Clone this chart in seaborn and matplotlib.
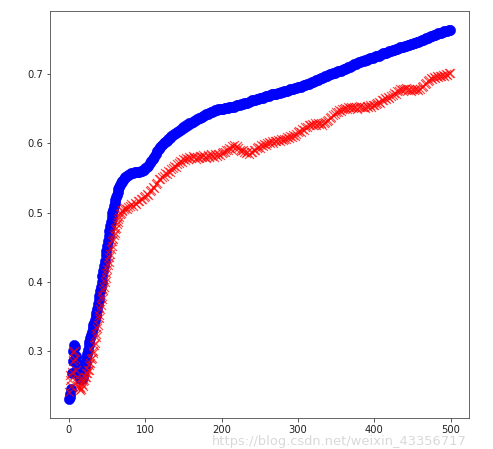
import numpy as np
import pandas as pd
import seaborn as sns
from matplotlib import pyplot as plt

# sampling grid: every step up to 69 (steep climb), then every other step
x_steps = np.concatenate([np.arange(0, 70, 1), np.arange(70, 500, 2), [499]])

blue_vals = [
    # 0..69
    0.230, 0.233, 0.238, 0.245, 0.268, 0.285, 0.300, 0.309, 0.305, 0.293,
    0.283, 0.276, 0.270, 0.265, 0.262, 0.260, 0.259, 0.260, 0.262, 0.266,
    0.272, 0.277, 0.283, 0.290, 0.296, 0.302, 0.308, 0.313, 0.318, 0.323,
    0.328, 0.333, 0.337, 0.341, 0.345, 0.350, 0.355, 0.361, 0.368, 0.374,
    0.380, 0.386, 0.393, 0.400, 0.408, 0.415, 0.423, 0.430, 0.438, 0.445,
    0.452, 0.459, 0.466, 0.473, 0.480, 0.487, 0.493, 0.499, 0.504, 0.509,
    0.514, 0.518, 0.522, 0.526, 0.530, 0.534, 0.537, 0.540, 0.542, 0.544,
    # 70..498 step 2
    0.546, 0.549, 0.551, 0.553, 0.554,
    0.556, 0.557, 0.557, 0.558, 0.558, 0.559, 0.559, 0.560, 0.560, 0.561,
    0.564, 0.566, 0.568, 0.571, 0.574, 0.578, 0.581, 0.585, 0.589, 0.592,
    0.595, 0.598, 0.600, 0.602, 0.604, 0.606, 0.608, 0.610, 0.612, 0.613,
    0.615, 0.617, 0.618, 0.620, 0.621, 0.623, 0.624, 0.626, 0.627, 0.629,
    0.630, 0.631, 0.632, 0.634, 0.635, 0.636, 0.637, 0.638, 0.640, 0.641,
    0.642, 0.643, 0.644, 0.645, 0.646, 0.647, 0.648, 0.648, 0.649, 0.649,
    0.650, 0.650, 0.651, 0.651, 0.651, 0.652, 0.652, 0.653, 0.653, 0.654,
    0.655, 0.655, 0.656, 0.657, 0.657, 0.658, 0.659, 0.659, 0.660, 0.661,
    0.662, 0.662, 0.663, 0.664, 0.664, 0.665, 0.666, 0.666, 0.667, 0.668,
    0.668, 0.669, 0.670, 0.671, 0.671, 0.672, 0.672, 0.673, 0.673, 0.674,
    0.674, 0.675, 0.676, 0.676, 0.677, 0.678, 0.678, 0.679, 0.680, 0.680,
    0.681, 0.682, 0.682, 0.683, 0.684, 0.685, 0.686, 0.686, 0.687, 0.688,
    0.689, 0.690, 0.691, 0.692, 0.693, 0.694, 0.695, 0.696, 0.697, 0.698,
    0.699, 0.700, 0.700, 0.701, 0.702, 0.703, 0.704, 0.705, 0.705, 0.706,
    0.707, 0.708, 0.709, 0.710, 0.711, 0.712, 0.713, 0.714, 0.715, 0.716,
    0.717, 0.718, 0.719, 0.719, 0.720, 0.721, 0.722, 0.723, 0.723, 0.724,
    0.725, 0.726, 0.727, 0.727, 0.728, 0.729, 0.730, 0.731, 0.731, 0.732,
    0.733, 0.734, 0.735, 0.735, 0.736, 0.737, 0.738, 0.739, 0.739, 0.740,
    0.741, 0.741, 0.742, 0.742, 0.743, 0.744, 0.745, 0.745, 0.746, 0.747,
    0.748, 0.749, 0.750, 0.751, 0.752, 0.753, 0.754, 0.755, 0.755, 0.756,
    0.757, 0.758, 0.759, 0.759, 0.760, 0.761, 0.762, 0.762, 0.763, 0.764,
    # 499
    0.764,
]

red_vals = [
    # 0..69
    0.240, 0.258, 0.265, 0.250, 0.270, 0.285, 0.298, 0.300, 0.288, 0.272,
    0.262, 0.255, 0.250, 0.246, 0.243, 0.248, 0.245, 0.252, 0.250, 0.256,
    0.258, 0.263, 0.262, 0.268, 0.268, 0.273, 0.272, 0.279, 0.282, 0.288,
    0.290, 0.297, 0.300, 0.308, 0.312, 0.320, 0.325, 0.333, 0.338, 0.347,
    0.352, 0.360, 0.366, 0.375, 0.380, 0.388, 0.393, 0.400, 0.405, 0.413,
    0.418, 0.424, 0.428, 0.436, 0.440, 0.447, 0.452, 0.459, 0.462, 0.468,
    0.470, 0.476, 0.478, 0.484, 0.486, 0.491, 0.493, 0.498, 0.499, 0.502,
    # 70..498 step 2
    0.503, 0.505, 0.506, 0.505, 0.508,
    0.509, 0.512, 0.510, 0.514, 0.513, 0.517, 0.516, 0.520, 0.519, 0.523,
    0.524, 0.527, 0.526, 0.531, 0.533, 0.537, 0.536, 0.541, 0.543, 0.548,
    0.549, 0.552, 0.553, 0.557, 0.556, 0.560, 0.559, 0.563, 0.564, 0.567,
    0.566, 0.570, 0.571, 0.574, 0.573, 0.577, 0.576, 0.579, 0.578, 0.581,
    0.579, 0.582, 0.580, 0.578, 0.581, 0.579, 0.582, 0.580, 0.583, 0.581,
    0.579, 0.583, 0.581, 0.584, 0.582, 0.580, 0.584, 0.582, 0.585, 0.583,
    0.586, 0.588, 0.587, 0.591, 0.590, 0.594, 0.592, 0.596, 0.597, 0.594,
    0.596, 0.593, 0.591, 0.589, 0.590, 0.587, 0.586, 0.588, 0.585, 0.587,
    0.588, 0.591, 0.590, 0.593, 0.595, 0.594, 0.597, 0.596, 0.599, 0.598,
    0.600, 0.602, 0.600, 0.603, 0.601, 0.604, 0.603, 0.605, 0.604, 0.606,
    0.605, 0.607, 0.606, 0.609, 0.608, 0.610, 0.609, 0.612, 0.611, 0.614,
    0.616, 0.618, 0.617, 0.621, 0.620, 0.624, 0.623, 0.627, 0.626, 0.628,
    0.627, 0.629, 0.627, 0.630, 0.628, 0.629, 0.627, 0.630, 0.631, 0.633,
    0.634, 0.637, 0.638, 0.641, 0.642, 0.645, 0.646, 0.648, 0.647, 0.650,
    0.649, 0.651, 0.650, 0.652, 0.651, 0.653, 0.651, 0.653, 0.652, 0.650,
    0.652, 0.654, 0.652, 0.653, 0.651, 0.654, 0.653, 0.655, 0.653, 0.656,
    0.655, 0.657, 0.658, 0.660, 0.659, 0.662, 0.663, 0.665, 0.664, 0.667,
    0.666, 0.669, 0.670, 0.673, 0.672, 0.675, 0.676, 0.678, 0.677, 0.679,
    0.678, 0.680, 0.677, 0.679, 0.676, 0.678, 0.677, 0.679, 0.678, 0.677,
    0.679, 0.681, 0.683, 0.686, 0.687, 0.690, 0.691, 0.694, 0.693, 0.696,
    0.695, 0.697, 0.696, 0.698, 0.697, 0.699, 0.698, 0.700, 0.699, 0.701,
    # 499
    0.701,
]

watermark = 'https://blog.csdn.net/weixin_43356717'

df = pd.DataFrame({'step': x_steps, 'blue': blue_vals, 'red': red_vals})

sns.set_style('ticks')

fig = plt.figure(figsize=(493 / 72, 449 / 72), dpi=72)
ax = fig.add_axes([0.101, 0.069, 0.850, 0.906])

sns.scatterplot(data=df, x='step', y='blue', ax=ax, color='blue', marker='o',
                s=105, edgecolor='blue', linewidth=0.5, zorder=2)
sns.scatterplot(data=df, x='step', y='red', ax=ax, color='red', marker='x',
                s=80, linewidth=1.2, alpha=0.7, zorder=3)

ax.set_xlim(-25, 524)
ax.set_ylim(0.203, 0.791)
ax.set_xticks([0, 100, 200, 300, 400, 500])
ax.set_yticks([0.3, 0.4, 0.5, 0.6, 0.7])
ax.set(xlabel='', ylabel='')
ax.tick_params(labelsize=10, length=3.5, width=0.8, colors='#333333', labelcolor='#222222')
for sp in ax.spines.values():
    sp.set_linewidth(0.8)
    sp.set_color('#444444')

# csdn watermark, sits on the tick label row in the original
fig.text(0.43, 0.008, watermark, fontsize=13, color='#d2d2d2', alpha=0.85, zorder=0)

fig.savefig('out.png', dpi=72)
